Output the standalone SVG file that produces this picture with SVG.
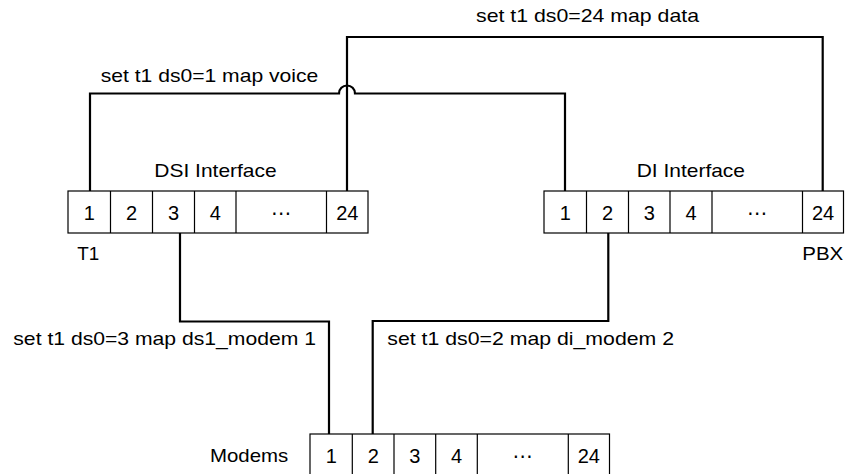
<svg xmlns="http://www.w3.org/2000/svg" width="855" height="474" viewBox="0 0 855 474">
<style>
text{font-family:"Liberation Sans",Arial,"DejaVu Sans",sans-serif;fill:#000}
.t{font-size:19px}
.c{font-size:20px;text-anchor:middle}
.box{fill:#fff;stroke:#000;stroke-width:1.2}
.div{stroke:#000;stroke-width:1.2}
.wire{fill:none;stroke:#000;stroke-width:2.2}
</style>
<rect width="855" height="474" fill="#fff"/>
<g id="connectors">
<path class="wire" d="M90,191 V93.5 H339 A8,8 0 0 1 355,93.5 H565 V191"/>
<path class="wire" d="M347,191 V37 H822.7 V191"/>
<path class="wire" d="M180,233 V321.5 H329 V434"/>
<path class="wire" d="M608.3,232 V321 H372.7 V434"/>
<text class="t" x="476" y="22" textLength="223" lengthAdjust="spacingAndGlyphs">set t1 ds0=24 map data</text>
<text class="t" x="100.7" y="82" textLength="217.6" lengthAdjust="spacingAndGlyphs">set t1 ds0=1 map voice</text>
<text class="t" x="13.3" y="345" textLength="302.7" lengthAdjust="spacingAndGlyphs">set t1 ds0=3 map ds1_modem 1</text>
<text class="t" x="387.3" y="345" textLength="286.7" lengthAdjust="spacingAndGlyphs">set t1 ds0=2 map di_modem 2</text>
</g>
<g id="dsi">
<text class="t" x="154.3" y="177" textLength="122.4" lengthAdjust="spacingAndGlyphs">DSI Interface</text>
<rect class="box" x="68" y="191" width="300" height="42"/>
<path class="div" d="M110.5,191 V233 M152.5,191 V233 M194.5,191 V233 M236,191 V233 M326.5,191 V233"/>
<text class="c" x="89.3" y="219.5">1</text>
<text class="c" x="131.5" y="219.5">2</text>
<text class="c" x="173.5" y="219.5">3</text>
<text class="c" x="215.3" y="219.5">4</text>
<text class="c" x="281.3" y="219.5">⋯</text>
<text class="c" x="347.3" y="219.5">24</text>
<text class="t" x="77.3" y="259.5" textLength="22" lengthAdjust="spacingAndGlyphs">T1</text>
</g>
<g id="di">
<text class="t" x="636.7" y="177" textLength="108.3" lengthAdjust="spacingAndGlyphs">DI Interface</text>
<rect class="box" x="544" y="191" width="299.5" height="42"/>
<path class="div" d="M586.5,191 V233 M628.5,191 V233 M670,191 V233 M712,191 V233 M802.5,191 V233"/>
<text class="c" x="565.3" y="219.5">1</text>
<text class="c" x="607.5" y="219.5">2</text>
<text class="c" x="649.2" y="219.5">3</text>
<text class="c" x="691" y="219.5">4</text>
<text class="c" x="757.3" y="219.5">⋯</text>
<text class="c" x="823" y="219.5">24</text>
<text class="t" x="802.3" y="259.5" textLength="41" lengthAdjust="spacingAndGlyphs">PBX</text>
</g>
<g id="modems">
<text class="t" x="210" y="462" textLength="78.3" lengthAdjust="spacingAndGlyphs">Modems</text>
<rect class="box" x="310" y="434" width="299.5" height="42"/>
<path class="div" d="M352.3,434 V476 M394,434 V476 M435.7,434 V476 M477.3,434 V476 M568.3,434 V476"/>
<text class="c" x="331.2" y="462.5">1</text>
<text class="c" x="373.2" y="462.5">2</text>
<text class="c" x="414.9" y="462.5">3</text>
<text class="c" x="456.5" y="462.5">4</text>
<text class="c" x="522.8" y="462.5">⋯</text>
<text class="c" x="588.8" y="462.5">24</text>
</g>
</svg>
